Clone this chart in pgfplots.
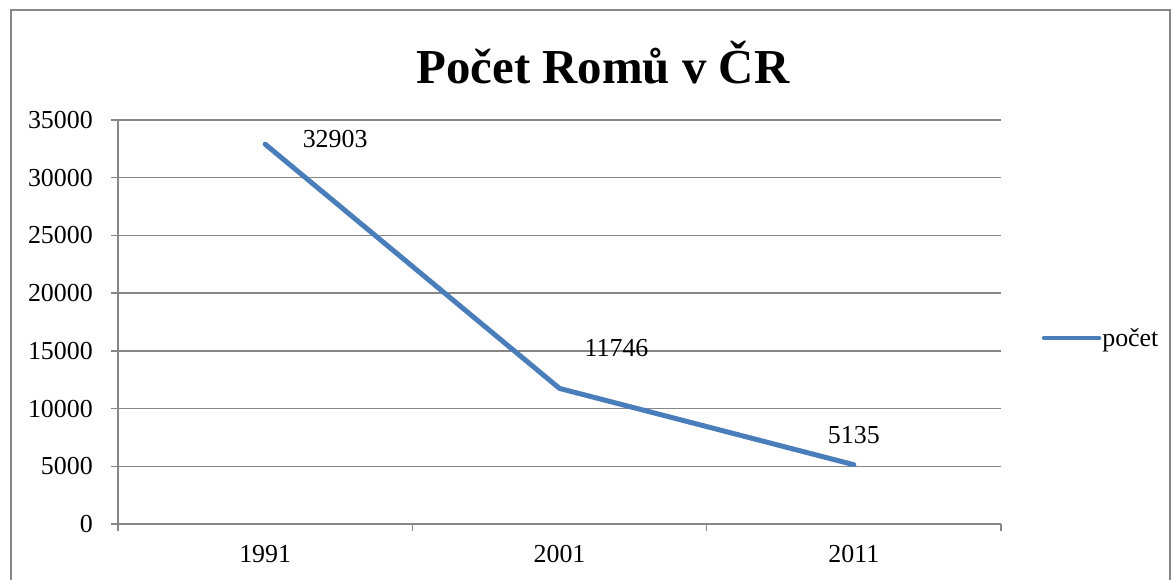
\documentclass[border=0pt]{standalone}
\usepackage{pgfplots}
\pgfplotsset{compat=1.18}
\usepackage{fontspec}
\setmainfont{Liberation Serif}
\definecolor{serie}{HTML}{4A7EBB}
\definecolor{gridg}{HTML}{868686}
\begin{document}
\begin{tikzpicture}[x=1bp,y=1bp]
\path[use as bounding box] (0,0) rectangle (1173,580);
\draw[gridg, line width=1.5bp] (11,-5) -- (11,570) -- (1170,570) -- (1170,-5);
\node[font=\fontsize{49}{54}\selectfont\bfseries] at (603,517) {Počet Romů v ČR};
\begin{axis}[
  at={(118bp,56bp)}, anchor=south west,
  scale only axis, width=883bp, height=404bp,
  xmin=-0.5, xmax=2.5, ymin=0, ymax=35000,
  axis lines*=left,
  axis line style={gridg, line width=1.5bp},
  xtick={-0.5,0.5,1.5,2.5},
  xticklabels={1991,2001,2011},
  x tick label as interval,
  ytick={0,5000,...,35000},
  ymajorgrids,
  grid style={gridg, line width=1.5bp},
  major tick style={gridg, line width=1.5bp},
  tick align=outside, major tick length=7bp,
  scaled y ticks=false,
  /pgf/number format/assume math mode=true,
  /pgf/number format/set thousands separator={},
  tick label style={font=\fontsize{26}{30}\selectfont, inner sep=0pt},
  yticklabel style={xshift=-18bp},
  xticklabel style={yshift=-14bp},
  legend style={draw=none, fill=none, at={(1.046,0.46)}, anchor=west, inner sep=0pt,
    nodes={inner sep=1bp, font=\fontsize{26}{30}\selectfont},
    /tikz/every even column/.append style={column sep=0pt}},
  legend image code/.code={\draw[serie, line width=4.5bp, line cap=round] (0bp,0bp) -- (55bp,0bp);},
  clip=false,
]
\addplot[serie, line width=5bp, line join=round, line cap=round] coordinates {(0,32903) (1,11746) (2,5135)};
\addlegendentry{počet}
\addplot[draw=none, forget plot, nodes near coords, point meta=explicit symbolic,
  every node near coord/.append style={font=\fontsize{26}{30}\selectfont, anchor=center, xshift=70bp, yshift=5bp}]
  coordinates {(0,32903) [32903]};
\addplot[draw=none, forget plot, nodes near coords, point meta=explicit symbolic,
  every node near coord/.append style={font=\fontsize{26}{30}\selectfont, anchor=center, xshift=57bp, yshift=40bp}]
  coordinates {(1,11746) [11746]};
\addplot[draw=none, forget plot, nodes near coords, point meta=explicit symbolic,
  every node near coord/.append style={font=\fontsize{26}{30}\selectfont, anchor=center, xshift=0bp, yshift=30bp}]
  coordinates {(2,5135) [5135]};
\end{axis}
\end{tikzpicture}
\end{document}
